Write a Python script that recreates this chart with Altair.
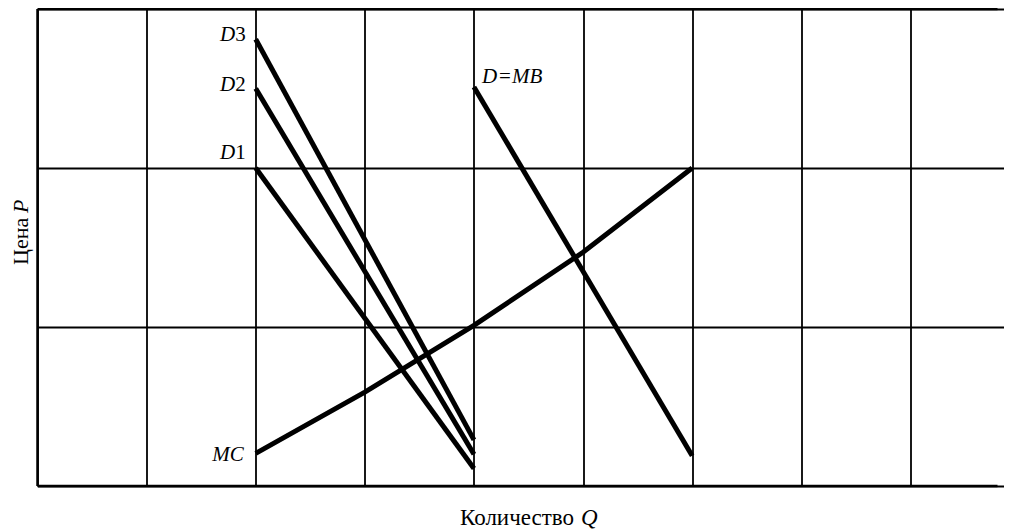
import altair as alt
import pandas as pd

FONT = "Liberation Serif, Times New Roman, Times, serif"

# Curves (Q in grid units, P in tens of grid rows)
D1_q = [2, 4]
D1_p = [20.0, 1.1]
D2_q = [2, 4]
D2_p = [25.0, 2.0]
D3_q = [2, 4]
D3_p = [28.1, 2.9]
MB_q = [4, 6]
MB_p = [25.1, 1.9]
MC_q = [2, 3, 4, 5, 6]
MC_p = [2.05, 5.9, 10.1, 14.7, 20.0]

# grid lines visible in the picture (the grid runs on past the right edge)
grid_q = [0, 1, 2, 3, 4, 5, 6, 7, 8]
grid_p = [0, 10, 20, 30]

rows = []
for name, qs, ps in [("D1", D1_q, D1_p), ("D2", D2_q, D2_p), ("D3", D3_q, D3_p),
                     ("D=MB", MB_q, MB_p), ("MC", MC_q, MC_p)]:
    for i, (q, p) in enumerate(zip(qs, ps)):
        rows.append({"series": name, "q": q, "p": p, "order": i})
lines_df = pd.DataFrame(rows)

# x range is wider than the drawn width: the grid continues past the picture edge
xs = alt.Scale(domain=[0, 9], range=[0, 982], nice=False, zero=False)
ys = alt.Scale(domain=[0, 30], nice=False, zero=False)

x_axis = alt.Axis(values=grid_q, grid=True, gridColor="black", gridWidth=1.8,
                  gridOpacity=1, labels=False, ticks=False, domain=False,
                  title=None, orient="bottom")
y_axis = alt.Axis(values=grid_p, grid=True, gridColor="black", gridWidth=1.8,
                  gridOpacity=1, labels=False, ticks=False, domain=False,
                  title=None, orient="left")


def X():
    return alt.X("q:Q", scale=xs, axis=x_axis)


def Y():
    return alt.Y("p:Q", scale=ys, axis=y_axis)


lines = alt.Chart(lines_df).mark_line(color="black", strokeWidth=5, strokeCap="butt").encode(
    x=X(), y=Y(), detail="series:N", order="order:Q",
)

# frame: thicker lines at the top, bottom and left grid lines
h_border = alt.Chart(pd.DataFrame({"p": [grid_p[0], grid_p[-1]]})).mark_rule(
    color="black", strokeWidth=2.5
).encode(y=Y())
v_border = alt.Chart(pd.DataFrame({"q": [grid_q[0]]})).mark_rule(
    color="black", strokeWidth=2.5
).encode(x=X())


def piece(text, q, p, dx, dy, italic, align):
    df = pd.DataFrame({"q": [q], "p": [p], "t": [text]})
    return alt.Chart(df).mark_text(
        align=align, baseline="alphabetic", dx=dx, dy=dy, font=FONT, fontSize=21,
        fontStyle="italic" if italic else "normal", color="black"
    ).encode(x=X(), y=Y(), text="t:N")


labels = [
    piece("3", D3_q[0], D3_p[0], -10, 2, False, "right"),
    piece("D", D3_q[0], D3_p[0], -20.5, 2, True, "right"),
    piece("2", D2_q[0], D2_p[0], -10, 2, False, "right"),
    piece("D", D2_q[0], D2_p[0], -20.5, 2, True, "right"),
    piece("1", D1_q[0], D1_p[0], -10, -9.5, False, "right"),
    piece("D", D1_q[0], D1_p[0], -20.5, -9.5, True, "right"),
    piece("MC", MC_q[0], MC_p[0], -12, 7.5, True, "right"),
    piece("D", MB_q[0], MB_p[0], 8, -3.5, True, "left"),
    piece("=", MB_q[0], MB_p[0], 25, -3.5, False, "left"),
    piece("MB", MB_q[0], MB_p[0], 38, -3.5, True, "left"),
]


def title_piece(text, x, y, italic, align, size, angle=0):
    df = pd.DataFrame({"t": [text]})
    return alt.Chart(df).mark_text(
        align=align, baseline="alphabetic", font=FONT, fontSize=size, angle=angle,
        fontStyle="italic" if italic else "normal", color="black"
    ).encode(x=alt.value(x), y=alt.value(y), text="t:N")


titles = [
    title_piece("Количество", 536.5, 516, False, "right", 23),
    title_piece("Q", 543.5, 516, True, "left", 23),
    title_piece("Цена", -10, 256, False, "left", 22, 270),
    title_piece("P", -10, 204, True, "left", 22, 270),
]

chart = alt.layer(lines, h_border, v_border, *labels, *titles).properties(
    width=960, height=477,
    background="white",
    autosize=alt.AutoSizeParams(type="none"),
    padding={"left": 29.5, "top": 1, "right": 6.5, "bottom": 45},
).configure_view(stroke=None, fill=None)

chart.save("out.html", embed_options={"renderer": "svg", "actions": False})
